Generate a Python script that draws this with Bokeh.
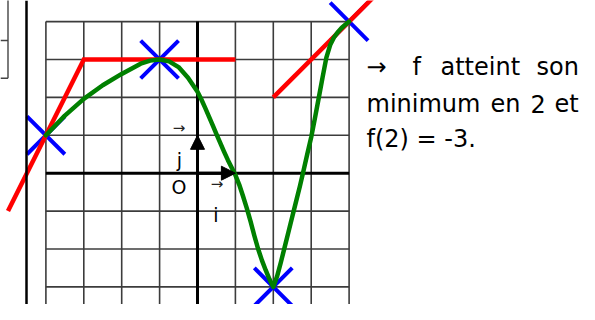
from bokeh.plotting import figure
from bokeh.models import Range1d, Arrow, NormalHead, Span
from bokeh.core.properties import value
from bokeh.embed import file_html
from bokeh.resources import INLINE

# ---------------- data (graph units) ----------------
grid_x = [-4, -3, -2, -1, 0, 1, 2, 3, 4]
grid_y = [-4, -3, -2, -1, 0, 1, 2, 3, 4]

# curve of f
curve_x = [-4, -3.5, -3, -2.5, -2, -1.5, -1.25, -1, -0.75, -0.5, -0.25, 0,
           0.1, 0.2, 0.3, 0.4, 0.5, 0.6, 0.7, 0.8, 0.9, 1.0,
           1.1, 1.2, 1.3, 1.4, 1.5, 1.6, 1.7, 1.8, 1.9, 2.0,
           2.1, 2.2, 2.3, 2.4, 2.5, 2.6, 2.7, 2.8, 2.9, 3.0,
           3.1, 3.2, 3.3, 3.4, 3.5, 3.6, 3.7, 3.8, 3.9, 4.0]
curve_y = [1, 1.52, 1.96, 2.32, 2.62, 2.89, 2.97, 3.0, 2.95, 2.8, 2.52, 2.15,
           1.95, 1.73, 1.5, 1.27, 1.03, 0.8, 0.57, 0.35, 0.15, -0.05,
           -0.3, -0.6, -0.92, -1.27, -1.65, -2.0, -2.3, -2.56, -2.8, -3.0,
           -2.72, -2.35, -1.95, -1.55, -1.15, -0.75, -0.35, 0.08, 0.52, 0.95,
           1.46, 1.99, 2.53, 3.05, 3.38, 3.58, 3.72, 3.83, 3.92, 4.0]

# marked points (blue crosses)
point_x = [-4, -1, 2, 4]
point_y = [1, 3, -3, 4]

# tangents (red): point, slope, extent
tan_at_x = [-4, -1, 4]
tan_at_y = [1, 3, 4]
tan_slope = [2, 0, 1]
tan_from = [-5, -3, 2]
tan_to = [-3, 1, 5]

# ---------------- layout ----------------
W, H = 579, 304
S = 37.9                     # pixels per unit
OX, OY = 197.0, 172.7        # origin position in the picture
def dx(px):  # picture px -> data x
    return (px - OX) / S
def dy(py):  # picture py -> data y
    return (OY - py) / S

p = figure(width=W, height=H, output_backend="svg", toolbar_location=None,
           x_range=Range1d(dx(0), dx(W)), y_range=Range1d(dy(H), dy(0)),
           min_border=0, outline_line_color=None)
p.axis.visible = False
p.xgrid.visible = False
p.ygrid.visible = False
p.background_fill_color = "white"

GRID = "#3c3c3c"
# fragment of the page table at the far left
p.segment(x0=[dx(0), dx(0), dx(7.5)], y0=[dy(40), dy(77.7), dy(-5)],
          x1=[dx(7.5), dx(7.5), dx(7.5)], y1=[dy(40), dy(77.7), dy(77.7)],
          line_color="#444444", line_width=1.4)
# left border of the page table
p.add_layout(Span(location=dx(26), dimension="height",
                  line_color="black", line_width=2.5))

# grid
p.segment(x0=grid_x, y0=[min(grid_y) - 1] * len(grid_x), x1=grid_x,
          y1=[max(grid_y)] * len(grid_x), line_color=GRID, line_width=1.6)
p.segment(x0=[min(grid_x)] * len(grid_y), y0=grid_y,
          x1=[max(grid_x)] * len(grid_y), y1=grid_y,
          line_color=GRID, line_width=1.6)
# axes
p.segment(x0=[min(grid_x)], y0=[0], x1=[max(grid_x)], y1=[0],
          line_color="black", line_width=3)
p.segment(x0=[0], y0=[min(grid_y) - 1], x1=[0], y1=[max(grid_y)],
          line_color="black", line_width=3)

# unit vectors
for ex, ey in [(1, 0), (0, 1)]:
    p.add_layout(Arrow(end=NormalHead(size=14, fill_color="black",
                                      line_color="black", line_width=1),
                       x_start=0, y_start=0, x_end=ex, y_end=ey,
                       line_color="black", line_width=3))

# blue crosses
c = 0.5
cx0, cy0, cx1, cy1 = [], [], [], []
for x, y in zip(point_x, point_y):
    cx0 += [x - c, x - c]; cy0 += [y - c, y + c]
    cx1 += [x + c, x + c]; cy1 += [y + c, y - c]
p.segment(x0=cx0, y0=cy0, x1=cx1, y1=cy1, line_color="#0000ff",
          line_width=4)

# red tangents: first two joined into one polyline
t_y = lambda i, x: tan_at_y[i] + tan_slope[i] * (x - tan_at_x[i])
p.line([tan_from[0], tan_to[0], tan_to[1]],
       [t_y(0, tan_from[0]), t_y(0, tan_to[0]), t_y(1, tan_to[1])],
       line_color="#ff0000", line_width=4.5, line_join="miter")
p.line([tan_from[2], tan_to[2]], [t_y(2, tan_from[2]), t_y(2, tan_to[2])],
       line_color="#ff0000", line_width=4.5)

# green curve
p.line(curve_x, curve_y, line_color="#008000", line_width=4.5,
       line_join="round", line_cap="round")

F = value("DejaVu Sans")
# labels near the origin
p.text(x=[dx(178.5)], y=[dy(186)], text=["O"], text_font=F,
       text_font_size="19px", text_align="center", text_baseline="middle")
p.text(x=[dx(179)], y=[dy(159.5)], text=["j"], text_font=F,
       text_font_size="19px", text_align="center", text_baseline="alphabetic")
p.text(x=[dx(215.5)], y=[dy(214)], text=["i"], text_font=F,
       text_font_size="19px", text_align="center", text_baseline="alphabetic")
p.text(x=[dx(178.5), dx(216.5)], y=[dy(127.5), dy(183)], text=["→", "→"],
       text_font=F, text_font_size="15px", text_align="center",
       text_baseline="middle", text_color="#222222")

# right-hand text
TF = "24px"
words = ["→", "f", "atteint", "son", "minimum", "en", "2", "et", "f(2) = -3."]
wx = [366, 412, 440, 536, 366, 490, 530, 554, 366]
wy = [66.5, 66.5, 66.5, 66.5, 103, 103, 103, 103, 138.5]
p.text(x=[dx(v) for v in wx], y=[dy(v) for v in wy], text=words,
       text_font=F, text_font_size=TF, text_align="left",
       text_baseline="alphabetic", text_color="black")

open("out.html", "w").write(file_html(p, INLINE))
